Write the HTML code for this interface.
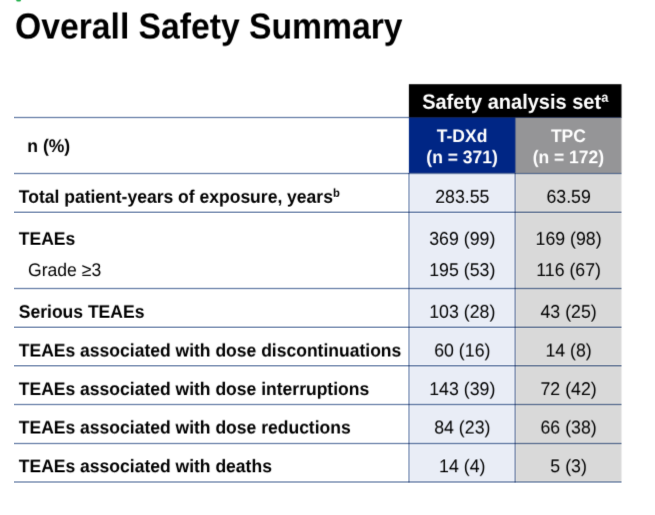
<!DOCTYPE html>
<html>
<head>
<meta charset="utf-8">
<title>Overall Safety Summary</title>
<style>
html,body{margin:0;padding:0;background:#fff;}
body{width:655px;height:515px;overflow:hidden;}
svg{display:block;position:absolute;left:0;top:0;}
text{font-family:"Liberation Sans",Arial,sans-serif;fill:#000;white-space:pre;text-rendering:geometricPrecision;}
.h1{font-size:33.7px;font-weight:bold;}
.hd{font-size:20px;font-weight:bold;fill:#fff;text-anchor:middle;}
.sh{font-size:17.5px;font-weight:bold;fill:#fff;text-anchor:middle;}
.b{font-size:17.52px;font-weight:bold;}
.r{font-size:17.6px;}
.n{font-size:17.75px;text-anchor:middle;}
.sup{font-size:0.64em;}
.ln{stroke:#8094b6;stroke-width:1.5;mix-blend-mode:multiply;}
.vl{stroke:#8d9fc0;stroke-width:1.35;mix-blend-mode:multiply;}
</style>
</head>
<body>
<svg width="655" height="515" viewBox="0 0 655 515">
<defs>
<filter id="f0" x="0" y="0" width="655" height="515" filterUnits="userSpaceOnUse" color-interpolation-filters="sRGB"><feConvolveMatrix order="3" kernelMatrix="0.0114 0.0841 0.0114 0.0841 0.6178 0.0841 0.0114 0.0841 0.0114" edgeMode="none" preserveAlpha="false"/></filter>
<filter id="f1" x="0" y="0" width="655" height="515" filterUnits="userSpaceOnUse" color-interpolation-filters="sRGB"><feConvolveMatrix order="3" kernelMatrix="0.0267 0.1965 0.0267 0.0803 0.5895 0.0803 0.0000 0.0000 0.0000" edgeMode="none" preserveAlpha="false"/></filter>
<filter id="f2" x="0" y="0" width="655" height="515" filterUnits="userSpaceOnUse" color-interpolation-filters="sRGB"><feConvolveMatrix order="3" kernelMatrix="0.0535 0.3930 0.0535 0.0535 0.3930 0.0535 0.0000 0.0000 0.0000" edgeMode="none" preserveAlpha="false"/></filter>
<filter id="f3" x="0" y="0" width="655" height="515" filterUnits="userSpaceOnUse" color-interpolation-filters="sRGB"><feConvolveMatrix order="3" kernelMatrix="0.0803 0.5895 0.0803 0.0267 0.1965 0.0267 0.0000 0.0000 0.0000" edgeMode="none" preserveAlpha="false"/></filter>
</defs>
<g filter="url(#f0)">
<rect x="0" y="0" width="655" height="515" fill="#fff"/>
<rect x="16.3" y="-2" width="4.6" height="3.4" rx="1.2" fill="#22b04b"/>
<rect x="408.9" y="117.0" width="107.39999999999998" height="56.300000000000004" fill="#002685"/>
<rect x="515.3" y="117.0" width="106.20000000000005" height="56.300000000000004" fill="#959597"/>
<rect x="408.9" y="173.0" width="107.39999999999998" height="308.8" fill="#e9edf6"/>
<rect x="515.3" y="173.0" width="106.20000000000005" height="308.8" fill="#d9d9d9"/>
<rect x="408.9" y="84.2" width="212.60000000000002" height="33.099999999999994" fill="#000"/>
<line x1="408.9" x2="621.5" y1="117.5" y2="117.5" stroke="#1a2a55" stroke-width="0.7"/>
<line x1="515.3" x2="515.3" y1="118" y2="173" stroke="#3c4f80" stroke-width="0.8" opacity="0.6"/>
<text class="sh" transform="translate(462.09999999999997 142) scale(1 1.04)">T-DXd</text>
<text class="sh" transform="translate(568.4 142) scale(1 1.04)">TPC</text>
<text class="b" transform="translate(27.35 152) scale(1 1.04)">n (%)</text>
<text class="r" transform="translate(28.0 276) scale(1 1.04)">Grade ≥3</text>
<text class="n" transform="translate(462.29999999999995 276) scale(1 1.04)">195 (53)</text>
<text class="n" transform="translate(568.6 276) scale(1 1.04)">116 (67)</text>
<text class="b" transform="translate(18.8 395) scale(1 1.04)">TEAEs associated with dose interruptions</text>
<text class="n" transform="translate(462.29999999999995 395) scale(1 1.04)">143 (39)</text>
<text class="n" transform="translate(568.6 395) scale(1 1.04)">72 (42)</text>
</g>
<g>
<line class="ln" x1="14" x2="408.9" y1="117.5" y2="117.5"/>
<line class="ln" x1="14" x2="621.5" y1="173.5" y2="173.5"/>
<line class="ln" x1="14" x2="621.5" y1="212.3" y2="212.3"/>
<line class="ln" x1="14" x2="621.5" y1="288.5" y2="288.5"/>
<line class="ln" x1="14" x2="621.5" y1="327.2" y2="327.2"/>
<line class="ln" x1="14" x2="621.5" y1="365.7" y2="365.7"/>
<line class="ln" x1="14" x2="621.5" y1="404.5" y2="404.5"/>
<line class="ln" x1="14" x2="621.5" y1="443.5" y2="443.5"/>
<line class="ln" x1="14" x2="621.5" y1="481.95" y2="481.95"/>
<line class="vl" x1="408.95" x2="408.95" y1="173.0" y2="482.5"/>
<line class="vl" x1="515.0999999999999" x2="515.0999999999999" y1="173.0" y2="482.5"/>
</g>
<g filter="url(#f1)">
<text class="hd" transform="translate(515.2 109) scale(1 1.04)">Safety analysis set<tspan class="sup" dy="-6.4">a</tspan></text>
<text class="b" transform="translate(18.8 203) scale(1 1.04)">Total patient-years of exposure, years<tspan class="sup" dy="-5.4">b</tspan></text>
<text class="n" transform="translate(462.29999999999995 203) scale(1 1.04)">283.55</text>
<text class="n" transform="translate(568.6 203) scale(1 1.04)">63.59</text>
<text class="b" transform="translate(18.8 245) scale(1 1.04)">TEAEs</text>
<text class="n" transform="translate(462.29999999999995 245) scale(1 1.04)">369 (99)</text>
<text class="n" transform="translate(568.6 245) scale(1 1.04)">169 (98)</text>
<text class="b" transform="translate(18.8 318) scale(1 1.04)">Serious TEAEs</text>
<text class="n" transform="translate(462.29999999999995 318) scale(1 1.04)">103 (28)</text>
<text class="n" transform="translate(568.6 318) scale(1 1.04)">43 (25)</text>
</g>
<g filter="url(#f2)">
<text class="h1" transform="translate(15.0 39) scale(1 1.07)">Overall Safety Summary</text>
<text class="b" transform="translate(18.8 357) scale(1 1.04)">TEAEs associated with dose discontinuations</text>
<text class="n" transform="translate(462.29999999999995 357) scale(1 1.04)">60 (16)</text>
<text class="n" transform="translate(568.6 357) scale(1 1.04)">14 (8)</text>
<text class="b" transform="translate(18.8 434) scale(1 1.04)">TEAEs associated with dose reductions</text>
<text class="n" transform="translate(462.29999999999995 434) scale(1 1.04)">84 (23)</text>
<text class="n" transform="translate(568.6 434) scale(1 1.04)">66 (38)</text>
</g>
<g filter="url(#f3)">
<text class="sh" transform="translate(462.09999999999997 164) scale(1 1.04)">(n = 371)</text>
<text class="sh" transform="translate(568.4 164) scale(1 1.04)">(n = 172)</text>
<text class="b" transform="translate(18.8 473) scale(1 1.04)">TEAEs associated with deaths</text>
<text class="n" transform="translate(462.29999999999995 473) scale(1 1.04)">14 (4)</text>
<text class="n" transform="translate(568.6 473) scale(1 1.04)">5 (3)</text>
</g>
</svg>
</body>
</html>
